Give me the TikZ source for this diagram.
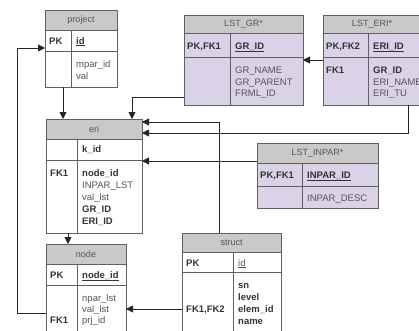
\documentclass[tikz,border=0pt]{standalone}
\usepackage{fontspec}
\setmainfont{Liberation Sans}
\usetikzlibrary{arrows.meta}
\definecolor{hdrgray}{HTML}{C9C9C9}
\definecolor{lav}{HTML}{DAD2E6}
\definecolor{edge}{HTML}{606060}
\definecolor{ink}{HTML}{333333}
\definecolor{ink2}{HTML}{555555}
\newcommand\cellbox[6]{\node[cellb, fill=#6, minimum width=#4pt-#2pt, minimum height=#5pt-#3pt] (#1) at (#2,#3) {};}
\begin{document}
\begin{tikzpicture}[x=1pt,y=-1pt,
 cellb/.style={draw=edge, line width=0.9pt, anchor=north west, inner sep=0pt, outer sep=0pt},
 ttl/.style={font=\fontsize{9}{11}\selectfont, text=ink2, inner sep=0pt},
 fld/.style={font=\fontsize{9.5}{11}\selectfont, text=ink2, anchor=base west, inner sep=0pt},
 key/.style={fld, font=\fontsize{9.5}{11}\selectfont\bfseries, text=ink},
 conn/.style={draw=black!85, line width=0.9pt},
 arr/.style={conn, -{Triangle[length=7pt,width=7pt]}}]
\useasboundingbox (0,0) rectangle (419,330);
\clip (0,0) rectangle (419,330);
\fill[white] (0,0) rectangle (419,330);

% project
\cellbox{prjH}{45}{10}{117}{30}{hdrgray}
\cellbox{prjPKk}{45}{30}{71}{51}{white}
\cellbox{prjPKf}{71}{30}{117}{51}{white}
\cellbox{prjBk}{45}{51}{71}{87}{white}
\cellbox{prjBf}{71}{51}{117}{87}{white}
\node[ttl] (prjT) at (prjH) {project};
\node[key] (prjK1) at (49,44) {PK};
\node[key] (prjF1) at (76,44) {\underline{id}};
\node[fld] (prjF2) at (76,67) {mpar\_id};
\node[fld] (prjF3) at (76,79) {val};

% LST_GR*
\cellbox{grH}{184}{15}{303}{33}{hdrgray}
\cellbox{grPKk}{184}{33}{230}{57}{lav}
\cellbox{grPKf}{230}{33}{303}{57}{lav}
\cellbox{grBk}{184}{57}{230}{105}{lav}
\cellbox{grBf}{230}{57}{303}{105}{lav}
\node[ttl] (grT) at (grH) {LST\_GR*};
\node[key] (grK1) at (187,49) {PK,FK1};
\node[key] (grF1) at (235,49) {\underline{GR\_ID}};
\node[fld] (grF2) at (235,73) {GR\_NAME};
\node[fld] (grF3) at (235,85) {GR\_PARENT};
\node[fld] (grF4) at (235,96) {FRML\_ID};

% LST_ERI*
\cellbox{lerH}{323}{15}{440}{33}{hdrgray}
\cellbox{lerPKk}{323}{33}{368}{57}{lav}
\cellbox{lerPKf}{368}{33}{440}{57}{lav}
\cellbox{lerBk}{323}{57}{368}{105}{lav}
\cellbox{lerBf}{368}{57}{440}{105}{lav}
\node[ttl] (lerT) at (372,24) {LST\_ERI*};
\node[key] (lerK1) at (326,49) {PK,FK2};
\node[key] (lerF1) at (373,49) {\underline{ERI\_ID}};
\node[key] (lerK2) at (326,73) {FK1};
\node[key] (lerF2) at (373,73) {GR\_ID};
\node[fld] (lerF3) at (373,85) {ERI\_NAME};
\node[fld] (lerF4) at (373,96) {ERI\_TU};

% eri
\cellbox{eriH}{46}{119}{142}{139}{hdrgray}
\cellbox{eriPKk}{46}{139}{77}{160}{white}
\cellbox{eriPKf}{77}{139}{142}{160}{white}
\cellbox{eriBk}{46}{160}{77}{233}{white}
\cellbox{eriBf}{77}{160}{142}{233}{white}
\node[ttl] (eriT) at (eriH) {eri};
\node[key] (eriF1) at (82,152) {k\_id};
\node[key] (eriK2) at (50,176) {FK1};
\node[key] (eriF2) at (82,176) {node\_id};
\node[fld] (eriF3) at (82,188) {INPAR\_LST};
\node[fld] (eriF4) at (82,200) {val\_lst};
\node[key] (eriF5) at (82,212) {GR\_ID};
\node[key] (eriF6) at (82,224) {ERI\_ID};

% LST_INPAR*
\cellbox{inH}{257}{143}{378}{163}{hdrgray}
\cellbox{inPKk}{257}{163}{302}{186}{lav}
\cellbox{inPKf}{302}{163}{378}{186}{lav}
\cellbox{inBk}{257}{186}{302}{208}{lav}
\cellbox{inBf}{302}{186}{378}{208}{lav}
\node[ttl] (inT) at (inH) {LST\_INPAR*};
\node[key] (inK1) at (260,178) {PK,FK1};
\node[key] (inF1) at (307,178) {\underline{INPAR\_ID}};
\node[fld] (inF2) at (307,201) {INPAR\_DESC};

% node
\cellbox{ndH}{46}{244}{126}{264}{hdrgray}
\cellbox{ndPKk}{46}{264}{77}{285}{white}
\cellbox{ndPKf}{77}{264}{126}{285}{white}
\cellbox{ndBk}{46}{285}{77}{345}{white}
\cellbox{ndBf}{77}{285}{126}{345}{white}
\node[ttl] (ndT) at (ndH) {node};
\node[key] (ndK1) at (50,278) {PK};
\node[key] (ndF1) at (82,278) {\underline{node\_id}};
\node[fld] (ndF2) at (82,301) {npar\_lst};
\node[fld] (ndF3) at (82,312) {val\_lst};
\node[fld] (ndF4) at (82,323) {prj\_id};
\node[key] (ndK2) at (50,323) {FK1};

% struct
\cellbox{stH}{182}{233}{281}{252}{hdrgray}
\cellbox{stPKk}{182}{252}{233}{272}{white}
\cellbox{stPKf}{233}{252}{281}{272}{white}
\cellbox{stBk}{182}{272}{233}{345}{white}
\cellbox{stBf}{233}{272}{281}{345}{white}
\node[ttl] (stT) at (stH) {struct};
\node[key] (stK1) at (186,266) {PK};
\node[fld] (stF1) at (238,266) {\underline{id}};
\node[key] (stF2) at (238,288) {sn};
\node[key] (stF3) at (238,300) {level};
\node[key] (stF4) at (238,312) {elem\_id};
\node[key] (stF5) at (238,324) {name};
\node[key] (stK2) at (186,312) {FK1,FK2};

% connectors
\coordinate (lp1) at (17,313);
\coordinate (lp2) at (17,48);
\draw[arr] (ndBk.west |- lp1) -- (lp1) -- (lp2) -- (prjPKk.west |- lp2);
\coordinate (x63) at (63,0);
\draw[arr] (prjBk.south -| x63) -- (eriH.north -| x63);
\coordinate (gr1) at (132,97);
\draw[arr] (grBk.west |- gr1) -- (gr1) -- (eriH.north -| gr1);
\coordinate (e1) at (0,60);
\draw[arr] (lerBk.west |- e1) -- (grBf.east |- e1);
\coordinate (s1) at (219,122);
\draw[arr] (stH.north -| s1) -- (s1) -- (eriH.east |- s1);
\coordinate (l1) at (408,133);
\draw[arr] (lerBf.south -| l1) -- (l1) -- (eriH.east |- l1);
\coordinate (i1) at (0,161);
\draw[arr] (inH.west |- i1) -- (eriBf.east |- i1);
\coordinate (x68) at (68,0);
\draw[arr] (eriBk.south -| x68) -- (ndH.north -| x68);
\coordinate (s2) at (0,309);
\draw[arr] (stBk.west |- s2) -- (ndBf.east |- s2);
\end{tikzpicture}
\end{document}
